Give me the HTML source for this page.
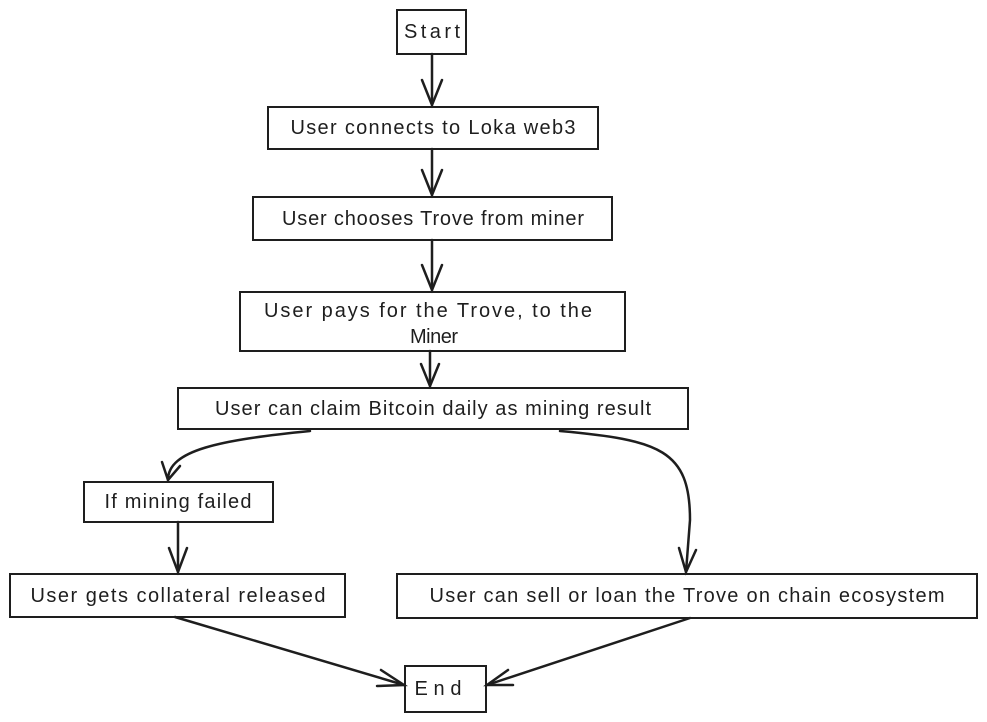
<!DOCTYPE html>
<html><head><meta charset="utf-8"><style>
html,body{margin:0;padding:0;background:#fff;}
svg{display:block}
text{font-family:"Liberation Sans",sans-serif;font-size:20px;fill:#1e1e1e;text-anchor:middle;dominant-baseline:central}
</style></head><body>
<svg width="987" height="722" viewBox="0 0 987 722" xmlns="http://www.w3.org/2000/svg">
<g fill="none" stroke="#1e1e1e" stroke-width="2">
<rect x="397" y="10" width="69" height="44"/>
<rect x="268" y="107" width="330" height="42"/>
<rect x="253" y="197" width="359" height="43"/>
<rect x="240" y="292" width="385" height="59"/>
<rect x="178" y="388" width="510" height="41"/>
<rect x="84" y="482" width="189" height="40"/>
<rect x="10" y="574" width="335" height="43"/>
<rect x="397" y="574" width="580" height="44"/>
<rect x="405" y="666" width="81" height="46"/>
<g stroke-width="2.5" stroke-linecap="round">
<path d="M432 54 L432 105"/><path d="M422 80 L432 105 L442 80"/>
<path d="M432 149 L432 195"/><path d="M422 170 L432 195 L442 170"/>
<path d="M432 240 L432 290"/><path d="M422 265 L432 290 L442 265"/>
<path d="M430 351 L430 386"/><path d="M421 364 L430 386 L439 364"/>
<path d="M310 431 C220 440 168 450 168 480"/><path d="M162 462 L168 480 L180 466"/>
<path d="M560 431 C660 440 690 450 690 520 L686 572"/><path d="M679 548 L686 572 L696 550"/>
<path d="M178 522 L178 572"/><path d="M169 548 L178 572 L187 548"/>
<path d="M175 617 L404 685"/><path d="M381 670 L404 685 L377 686"/>
<path d="M690 618 L487 685"/><path d="M508 670 L487 685 L513 685"/>
</g>
</g>
<text x="432" y="32" textLength="56" lengthAdjust="spacing">Start</text>
<text x="433" y="128" textLength="285" lengthAdjust="spacing">User connects to Loka web3</text>
<text x="433" y="219" textLength="302" lengthAdjust="spacing">User chooses Trove from miner</text>
<text x="428" y="311" textLength="328" lengthAdjust="spacing">User pays for the Trove, to the</text>
<text x="434" y="337" textLength="48" lengthAdjust="spacing">Miner</text>
<text x="433" y="409" textLength="436" lengthAdjust="spacing">User can claim Bitcoin daily as mining result</text>
<text x="178" y="502" textLength="147" lengthAdjust="spacing">If mining failed</text>
<text x="178" y="596" textLength="295" lengthAdjust="spacing">User gets collateral released</text>
<text x="687" y="596" textLength="515" lengthAdjust="spacing">User can sell or loan the Trove on chain ecosystem</text>
<text x="438" y="689" textLength="47" lengthAdjust="spacing">End</text>
</svg>
</body></html>
